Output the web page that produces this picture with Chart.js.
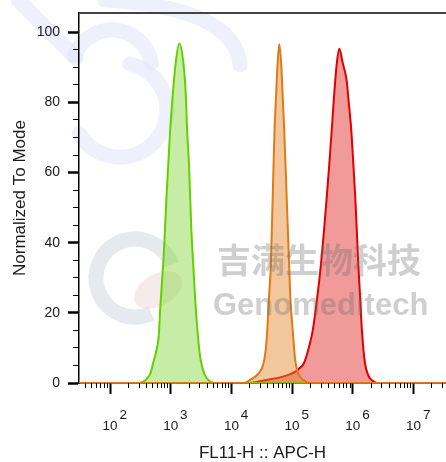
<!DOCTYPE html>
<html><head><meta charset="utf-8">
<script src="https://cdn.jsdelivr.net/npm/chart.js@4.4.0/dist/chart.umd.min.js"></script>
<style>html,body{margin:0;padding:0;background:#fff;}canvas{display:block;}</style>
</head><body>
<canvas id="c" width="446" height="462"></canvas>
<script>
// ---- data (fluorescence intensity vs normalized count) ----
const greenX = [31, 282, 355, 417, 468, 513, 575, 631, 676, 724, 759, 851, 912, 977, 1072, 1202, 1380, 1622, 1778, 1862, 1995, 2188, 2344, 2512, 2754, 3020, 3236, 3631, 4467, 5623, 34300000];
const greenY = [0, 0, 0.4, 1.5, 3, 5.7, 9, 13, 22, 30, 35, 53, 62.6, 72, 81.6, 91, 96.8, 91, 81.6, 72, 62.6, 43.6, 34, 24.6, 15, 8, 5.2, 2.3, 0.4, 0, 0];

const orangeX = [31, 15849, 20417, 28184, 33884, 37154, 38905, 41687, 44668, 47863, 51286, 54325, 57544, 61518, 66069, 69984, 74131, 81283, 89125, 93325, 102329, 112202, 125893, 151356, 194984, 34300000];
const orangeY = [0, 0, 0.9, 2.8, 5.7, 10.4, 15, 24.6, 34, 53, 72, 81.6, 91, 96.6, 91, 81.6, 72, 53, 34, 24.6, 15, 6.6, 2.8, 0.9, 0, 0];

const redX = [31, 19953, 29512, 48978, 72444, 95499, 114815, 131826, 157036, 190546, 218776, 260016, 299226, 335738, 371535, 410204, 448745, 489779, 543250, 599791, 676083, 724436, 794328, 851138, 944061, 1018591, 1096478, 1161449, 1230269, 1318257, 1412538, 1584893, 1819701, 2137962, 2511886, 34300000];
const redY = [0, 0, 0.5, 1.2, 1.9, 2.6, 3.3, 4.2, 5.7, 10.4, 15, 24.6, 34, 43.6, 53, 62.6, 72, 81.6, 91, 95.3, 91.5, 89.5, 86, 80.5, 72, 62.6, 53, 43.6, 34, 24.6, 15, 5.7, 2.0, 0.6, 0, 0];

// ---- axes ----
const xMajorTicks = [1e2, 1e3, 1e4, 1e5, 1e6, 1e7];
const xTickExponents = ['2', '3', '4', '5', '6', '7'];
const yTickValues = [0, 20, 40, 60, 80, 100];
const yTickLabels = ['0', '20', '40', '60', '80', '100'];
const xMin = 30.8, xMax = 3.43e7;
const yMin = 0, yMax = 105.5;

const xMinorTicks = [];
for (let e = 1; e <= 7; e++) for (let m = 2; m <= 9; m++) { const v = m * Math.pow(10, e); if (v > xMin && v < xMax) xMinorTicks.push(v); }
const yMinorTicks = [];
for (let v = 5; v < 105; v += 5) if (v % 20) yMinorTicks.push(v);

const FAM = "'Liberation Sans', Arial, Helvetica, sans-serif";
const pts = (xs, ys) => xs.map((x, i) => ({ x: x, y: ys[i] }));
const noPad = s => { s.paddingTop = 0; s.paddingBottom = 0; s.paddingLeft = 0; s.paddingRight = 0; };

const decor = {
  id: 'decor',
  beforeDraw(chart) {
    const c = chart.ctx;
    c.save();
    c.fillStyle = '#fff';
    c.fillRect(0, 0, chart.width, chart.height);
    // faint background logo arcs
    c.strokeStyle = 'rgba(222,228,248,0.5)';
    c.lineWidth = 15;
    c.lineCap = 'round';
    c.beginPath(); c.arc(120, 110, 47, -78 * Math.PI / 180, 150 * Math.PI / 180); c.stroke();
    c.beginPath(); c.arc(112, 70, 40, 200 * Math.PI / 180, 350 * Math.PI / 180); c.stroke();
    c.beginPath(); c.moveTo(105, 0); c.quadraticCurveTo(235, 8, 240, 65); c.stroke();
    c.beginPath(); c.moveTo(18, 0); c.lineTo(76, 58); c.stroke();
    // faint company logo
    c.strokeStyle = 'rgba(205,214,222,0.5)';
    c.lineWidth = 15;
    c.lineCap = 'butt';
    c.beginPath(); c.arc(135, 278, 39, -20 * Math.PI / 180, 65 * Math.PI / 180, true); c.stroke();
    c.fillStyle = 'rgba(228,185,185,0.3)';
    c.beginPath(); c.ellipse(158, 290, 26, 16, -0.5, 0, Math.PI * 2); c.fill();
    c.restore();
  },
  afterDatasetsDraw(chart) {
    const c = chart.ctx;
    c.save();
    c.fillStyle = 'rgba(110,110,110,0.33)';
    c.textAlign = 'left';
    c.textBaseline = 'alphabetic';
    c.font = "bold 34px 'Noto Sans CJK SC', sans-serif";
    c.fillText('吉满生物科技', 217, 273, 211);
    c.font = "bold 31px 'Liberation Sans', Arial, sans-serif";
    c.fillText('Genomeditech', 213, 315, 222);
    c.restore();
  },
  afterDraw(chart) {
    const c = chart.ctx, a = chart.chartArea;
    c.save();
    c.strokeStyle = '#444';
    c.lineWidth = 2;
    c.beginPath(); c.moveTo(a.left, a.top); c.lineTo(a.right, a.top); c.stroke();
    c.restore();
  }
};

new Chart(document.getElementById('c'), {
  type: 'line',
  data: {
    datasets: [
      { label: 'Orange', data: pts(orangeX, orangeY), borderColor: '#e17a14', backgroundColor: 'rgba(228,130,40,0.45)', fill: 'origin', order: 1 },
      { label: 'Green', data: pts(greenX, greenY), borderColor: '#64d000', backgroundColor: 'rgba(120,210,40,0.42)', fill: 'origin', order: 2 },
      { label: 'Red', data: pts(redX, redY), borderColor: '#e00000', backgroundColor: 'rgba(226,40,40,0.47)', fill: 'origin', order: 3 }
    ]
  },
  options: {
    responsive: false,
    animation: false,
    layout: { padding: { top: 13, right: 0, left: 0, bottom: 0 } },
    plugins: { legend: { display: false }, tooltip: { enabled: false } },
    elements: { point: { radius: 0 }, line: { borderWidth: 2, cubicInterpolationMode: 'monotone' } },
    scales: {
      x: {
        type: 'logarithmic', position: 'bottom', min: xMin, max: xMax, weight: 1,
        afterBuildTicks: s => { s.ticks = xMajorTicks.map(v => ({ value: v })); },
        afterFit: s => { s.height = 79; noPad(s); },
        ticks: {
          autoSkip: false, maxRotation: 0, minRotation: 0, padding: 16, color: '#1a1a1a',
          font: { family: FAM, size: 13.5, lineHeight: 0.78 },
          callback: v => { const i = xMajorTicks.indexOf(v); return i < 0 ? '' : ['       ' + xTickExponents[i], '10']; }
        },
        grid: { drawOnChartArea: false, drawTicks: true, tickLength: 11, tickWidth: 2, tickColor: '#000' },
        border: { display: true, color: '#000', width: 1.5 },
        title: { display: true, text: 'FL11-H :: APC-H', color: '#1a1a1a', font: { family: FAM, size: 17, lineHeight: 1 }, padding: { top: 0, bottom: 0 } }
      },
      xMinor: {
        type: 'logarithmic', position: 'bottom', min: xMin, max: xMax, weight: 0,
        afterBuildTicks: s => { s.ticks = xMinorTicks.map(v => ({ value: v })); },
        afterFit: s => { s.height = 0; noPad(s); },
        ticks: { autoSkip: false, maxRotation: 0, callback: () => '' },
        grid: { drawOnChartArea: false, drawTicks: true, tickLength: 5, tickWidth: 1, tickColor: '#000' },
        border: { display: false }
      },
      y: {
        type: 'linear', position: 'left', min: yMin, max: yMax, weight: 1,
        afterBuildTicks: s => { s.ticks = yTickValues.map(v => ({ value: v })); },
        afterFit: s => { s.width = 79; noPad(s); },
        ticks: {
          autoSkip: false, padding: 8, color: '#1a1a1a', font: { family: FAM, size: 14 },
          callback: v => { const i = yTickValues.indexOf(v); return i < 0 ? '' : yTickLabels[i]; }
        },
        grid: { drawOnChartArea: false, drawTicks: true, tickLength: 11, tickWidth: 2.5, tickColor: '#000' },
        border: { display: true, color: '#000', width: 1.5 },
        title: { display: true, text: 'Normalized To Mode', color: '#1a1a1a', font: { family: FAM, size: 17, lineHeight: 1.2 }, padding: { top: 10, bottom: 0 } }
      },
      yMinor: {
        type: 'linear', position: 'left', min: yMin, max: yMax, weight: 0,
        afterBuildTicks: s => { s.ticks = yMinorTicks.map(v => ({ value: v })); },
        afterFit: s => { s.width = 0; noPad(s); },
        ticks: { autoSkip: false, callback: () => '' },
        grid: { drawOnChartArea: false, drawTicks: true, tickLength: 6, tickWidth: 1, tickColor: '#000' },
        border: { display: false }
      }
    }
  },
  plugins: [decor]
});
</script>
</body></html>
